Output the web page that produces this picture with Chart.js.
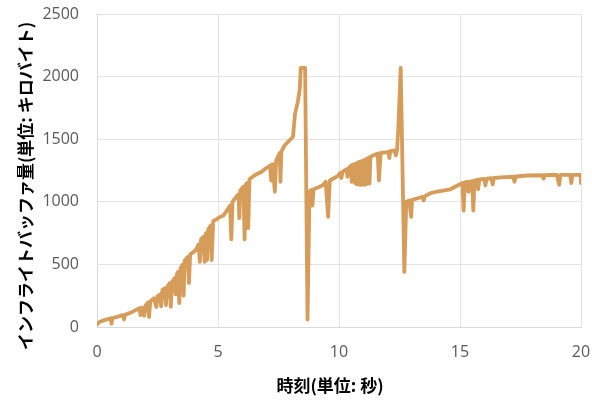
<!DOCTYPE html>
<html>
<head>
<meta charset="utf-8">
<script src="https://cdn.jsdelivr.net/npm/chart.js@4/dist/chart.umd.min.js"></script>
<style>
html,body{margin:0;padding:0;background:#fff;}
#wrap{width:592px;height:408px;position:relative;}
</style>
</head>
<body>
<div id="wrap"><canvas id="c" width="592" height="408"></canvas></div>
<script>
const times = [
0.00,0.10,0.30,0.50,0.58,0.60,0.63,0.90,1.07,1.12,1.16,1.40,1.60,1.75,1.80,1.85,1.95,2.00,2.10,2.15,2.20,
2.35,2.45,2.50,2.60,2.65,2.70,2.80,2.85,2.90,3.00,3.05,3.10,3.20,3.25,3.30,3.35,3.40,3.45,3.55,3.58,3.62,
3.75,3.80,3.85,4.00,4.10,4.20,4.25,4.30,4.40,4.45,4.50,4.55,4.60,4.70,4.74,4.80,4.88,4.95,5.00,5.10,5.22,5.40,5.50,
5.55,5.60,5.75,5.85,5.88,5.92,6.05,6.10,6.15,6.20,6.25,6.30,6.50,6.80,7.00,7.15,7.20,7.25,7.35,7.40,7.55,
7.58,7.62,7.75,7.90,8.10,8.18,8.30,8.38,8.42,8.60,8.70,8.78,8.85,8.90,8.95,9.20,9.35,9.45,9.55,9.62,9.80,
9.97,10.05,10.10,10.15,10.30,10.35,10.40,10.50,10.52,10.56,10.60,10.63,10.66,10.70,10.73,10.76,10.80,10.83,
10.86,10.90,10.93,10.96,11.00,11.03,11.06,11.10,11.13,11.16,11.20,11.23,11.26,11.30,
11.60,11.65,11.72,11.95,12.05,12.08,12.12,12.30,12.35,12.40,12.45,12.55,12.70,12.78,
12.90,12.98,13.02,13.30,13.45,13.50,13.55,13.80,14.00,14.30,14.60,14.90,15.10,15.15,15.20,15.30,15.35,15.40,
15.50,15.55,15.60,15.70,15.75,15.80,16.00,16.05,16.10,16.30,16.35,16.40,16.70,17.20,17.25,17.30,17.80,18.40,
18.45,18.50,18.80,19.00,19.10,19.15,19.55,19.60,19.65,19.98,20.00
];
const bufferKB = [
20,40,55,65,70,25,70,85,95,60,98,115,135,150,95,155,90,170,195,80,205,
230,160,245,260,165,295,310,175,320,350,160,360,390,260,420,440,190,470,500,250,530,
560,350,580,600,620,660,520,700,720,520,750,535,780,810,535,845,855,860,870,880,890,940,970,
700,1000,1040,1060,870,1090,1120,700,1140,1150,790,1180,1210,1240,1270,1290,1170,1300,1080,1330,1390,
1160,1400,1450,1480,1520,1700,1800,1900,2070,2070,60,1080,1095,970,1100,1120,1135,1160,880,1170,1190,
1210,1230,1190,1240,1260,1200,1270,1290,1160,1295,1170,1300,1150,1305,1140,1312,1140,1318,
1135,1322,1135,1327,1140,1332,1135,1338,1140,1345,1150,1352,1145,1360,
1385,1170,1390,1395,1400,1350,1405,1410,1370,1415,1580,2070,440,1000,
1010,880,1015,1030,1040,1010,1045,1070,1080,1090,1100,1130,1150,930,1155,1160,1080,1160,
1165,930,1170,1175,1100,1178,1182,1130,1185,1188,1140,1190,1195,1200,1160,1202,1210,1212,
1185,1212,1214,1215,1135,1215,1215,1150,1215,1215,1150
];
const xTicks = [0,5,10,15,20];
const yTicks = [0,500,1000,1500,2000,2500];
const xTitle = '時刻(単位: 秒)';
const yTitle = 'インフライトバッファ量(単位: キロバイト)';

const points = times.map((t,i)=>({x:t,y:bufferKB[i]}));
const tickFont = {family:'"Open Sans", "Liberation Sans", sans-serif', size:16};
const titleFontCss = 'bold 17px "Noto Sans CJK JP", sans-serif';

const axisTitles = {
  id:'axisTitles',
  afterDraw(chart){
    const ctx = chart.ctx;
    ctx.save();
    ctx.fillStyle = '#000';
    ctx.font = titleFontCss;
    ctx.textAlign = 'center';
    ctx.textBaseline = 'middle';
    ctx.fillText(xTitle, 330, 386);
    ctx.translate(26, 186);
    ctx.rotate(-Math.PI/2);
    ctx.fillText(yTitle, 0, 0);
    ctx.restore();
  }
};
function zeroPad(s){ s.paddingLeft=0; s.paddingRight=0; s.paddingTop=0; s.paddingBottom=0; }

new Chart(document.getElementById('c'), {
  type:'scatter',
  data:{datasets:[{
    data:points,
    showLine:true,
    borderColor:'#D69C5A',
    backgroundColor:'#D69C5A',
    borderWidth:3.8,
    pointRadius:0,
    borderJoinStyle:'round',
    borderCapStyle:'round',
    tension:0
  }]},
  options:{
    responsive:false,
    animation:false,
    devicePixelRatio:1,
    layout:{padding:{top:14,right:11,left:0,bottom:0}},
    plugins:{legend:{display:false},tooltip:{enabled:false}},
    scales:{
      x:{
        type:'linear',min:0,max:20,
        afterBuildTicks:s=>{s.ticks=xTicks.map(v=>({value:v}));},
        afterFit:s=>{s.height=81; zeroPad(s);},
        grid:{color:'#e3e3e3',drawTicks:false,lineWidth:1},
        border:{color:'#d9d9d9'},
        ticks:{color:'#595959',font:tickFont,padding:16,maxRotation:0,callback:v=>String(v)},
        title:{display:false}
      },
      y:{
        type:'linear',min:0,max:2500,
        afterBuildTicks:s=>{s.ticks=yTicks.map(v=>({value:v}));},
        afterFit:s=>{s.width=97; zeroPad(s);},
        grid:{color:'#e3e3e3',drawTicks:false,lineWidth:1},
        border:{color:'#d9d9d9'},
        ticks:{color:'#595959',font:tickFont,padding:18,callback:v=>String(v)},
        title:{display:false}
      }
    }
  },
  plugins:[axisTitles]
});
</script>
</body>
</html>
